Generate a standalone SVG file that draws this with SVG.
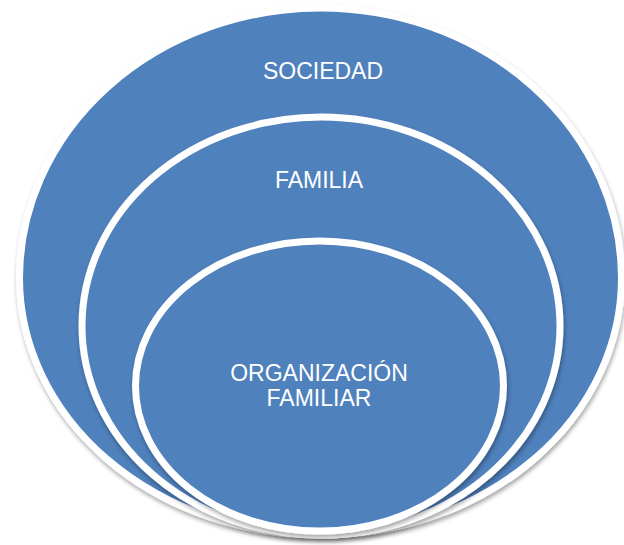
<svg xmlns="http://www.w3.org/2000/svg" width="624" height="545" viewBox="0 0 624 545">
  <style>
    .ring { fill: #4F81BD; stroke: #FFFFFF; stroke-width: 7; filter: url(#shadow); }
    .label { fill: #FFFFFF; font-family: "Liberation Sans", Arial, sans-serif; font-size: 23px; text-anchor: middle; }
  </style>
  <defs>
    <filter id="shadow" x="-10%" y="-10%" width="120%" height="125%">
      <feDropShadow dx="1" dy="3" stdDeviation="2.2" flood-color="#000000" flood-opacity="0.35"/>
    </filter>
  </defs>
  <rect width="624" height="545" fill="#FFFFFF"/>
  <g id="connectors"></g>
  <g id="sociedad">
    <path class="ring" d="M 19.5 278 A 301 270 0 0 1 621.5 278 A 301 257 0 0 1 19.5 278 Z"/>
    <text class="label" x="323" y="79">SOCIEDAD</text>
  </g>
  <g id="familia">
    <ellipse class="ring" cx="321" cy="326" rx="239" ry="209"/>
    <text class="label" x="319" y="188">FAMILIA</text>
  </g>
  <g id="organizacion-familiar">
    <ellipse class="ring" cx="319.5" cy="386" rx="184" ry="145"/>
    <text class="label" x="319" y="381">ORGANIZACIÓN</text>
    <text class="label" x="319" y="406">FAMILIAR</text>
  </g>
</svg>
